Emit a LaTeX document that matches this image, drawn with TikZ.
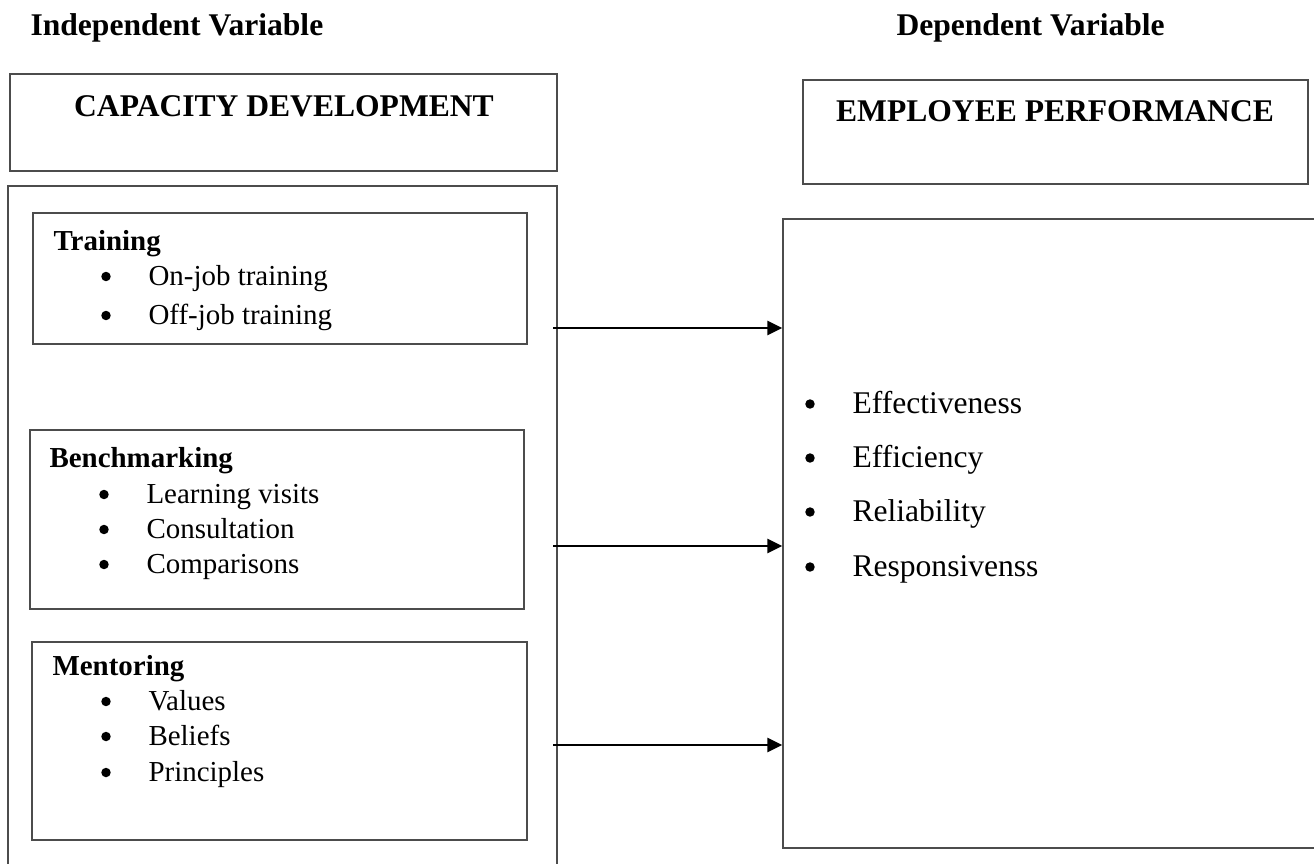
\documentclass[tikz,border=0pt]{standalone}
\usepackage{fontspec}
\setmainfont{Liberation Serif}
\usetikzlibrary{arrows.meta,fit}

\begin{document}
\begin{tikzpicture}[x=0.38pt, y=-0.38pt,
    box/.style={draw=black!70, line width=0.55pt, inner sep=0pt},
    head/.style={font=\fontsize{12}{14}\selectfont\bfseries, inner sep=0pt, anchor=base west},
    subhead/.style={head, font=\fontsize{11}{13}\selectfont\bfseries},
    item/.style={font=\fontsize{11}{13}\selectfont, inner sep=0pt, anchor=base west},
    ritem/.style={font=\fontsize{12}{14}\selectfont, inner sep=0pt, anchor=base west},
    dot/.style={circle, fill=black, inner sep=0pt, minimum size=3.6pt},
    link/.style={line width=1.1pt, -{Triangle[length=5.7pt,width=5.3pt]}}]
  \useasboundingbox (0,0) rectangle (1314,863);
  \clip (0,0) rectangle (1314,863);

  % variable labels
  \node[head] (indep) at (30,35) {Independent Variable};
  \node[head] (dep) at (896,35) {Dependent Variable};

  % independent side
  \node[box, fit={(10,74) (557,171)}] (cap) {};
  \node[head, anchor=base] (captitle) at (284,116) {CAPACITY DEVELOPMENT};
  \node[box, fit={(8,186) (557,880)}] (outer) {};

  \node[box, fit={(33,213) (527,344)}] (train) {};
  \node[subhead] (traintitle) at (53,250) {Training};
  \foreach \t/\y [count=\i] in {On-job training/285, Off-job training/324} {
    \node[dot] (trainb\i) at (106,{\y-8.5}) {};
    \node[item] (traint\i) at (148,\y) {\t};
  }

  \node[box, fit={(30,430) (524,609)}] (bench) {};
  \node[subhead] (benchtitle) at (49,467) {Benchmarking};
  \foreach \t/\y [count=\i] in {Learning visits/503, Consultation/538, Comparisons/573} {
    \node[dot] (benchb\i) at (104,{\y-8.5}) {};
    \node[item] (bencht\i) at (146,\y) {\t};
  }

  \node[box, fit={(32,642) (527,840)}] (mentor) {};
  \node[subhead] (mentortitle) at (52,675) {Mentoring};
  \foreach \t/\y [count=\i] in {Values/710, Beliefs/745, Principles/781} {
    \node[dot] (mentorb\i) at (106,{\y-8.5}) {};
    \node[item] (mentort\i) at (148,\y) {\t};
  }

  % dependent side
  \node[box, fit={(803,80) (1308,184)}] (emp) {};
  \node[head, anchor=base] (emptitle) at (1055,121) {EMPLOYEE PERFORMANCE};
  \node[box, fit={(783,219) (1330,848)}] (perf) {};
  \foreach \t/\y [count=\i] in {Effectiveness/413, Efficiency/467, Reliability/521, Responsivenss/576} {
    \node[dot] (perfb\i) at (810,{\y-9}) {};
    \node[ritem] (perft\i) at (852,\y) {\t};
  }

  % arrows
  \foreach \y [count=\i] in {328,546,745} {
    \coordinate (s\i) at (553,\y);
    \draw[link] (s\i) -- (s\i -| perf.west);
  }
\end{tikzpicture}
\end{document}
